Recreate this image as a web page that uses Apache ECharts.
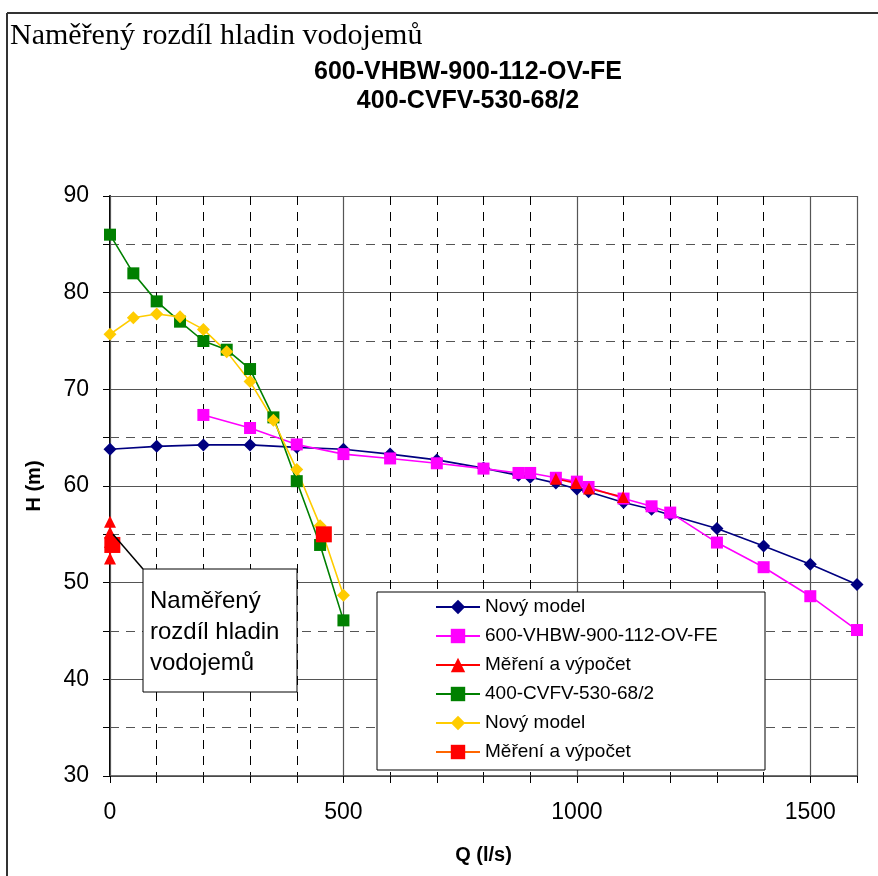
<!DOCTYPE html>
<html>
<head>
<meta charset="utf-8">
<script src="https://cdn.jsdelivr.net/npm/echarts@6/dist/echarts.min.js"></script>
<style>
  html, body { margin: 0; padding: 0; background: #fff; }
  #chart { width: 878px; height: 876px; }
</style>
</head>
<body>
<div id="chart"></div>
<script>
// hodnoty
const titleText = 'Naměřený rozdíl hladin vodojemů'
const subTitles = ['600-VHBW-900-112-OV-FE', '400-CVFV-530-68/2']
const seriesNames = ['Nový model', '600-VHBW-900-112-OV-FE', 'Měření a výpočet',
  '400-CVFV-530-68/2', 'Nový model\u200b', 'Měření a výpočet\u200b']
const noteLines = ['Naměřený', 'rozdíl hladin', 'vodojemů']

const qModel1 = [0, 100, 200, 300, 400, 500, 600, 700, 800, 875, 900, 955, 1000, 1025, 1100, 1160, 1200, 1300, 1400, 1500, 1600]
const hModel1 = [63.8, 64.1, 64.25, 64.25, 64.0, 63.8, 63.3, 62.7, 61.85, 61.1, 60.9, 60.3, 59.7, 59.4, 58.3, 57.6, 57.0, 55.6, 53.8, 51.9, 49.8]

const qVhbw = [200, 300, 400, 500, 600, 700, 800, 875, 900, 955, 1000, 1025, 1100, 1160, 1200, 1300, 1400, 1500, 1600]
const hVhbw = [67.35, 66.0, 64.3, 63.3, 62.85, 62.35, 61.8, 61.35, 61.35, 60.85, 60.45, 59.9, 58.7, 57.9, 57.25, 54.15, 51.6, 48.6, 45.1]

// '-' = přerušení čáry
const qMer1 = [0, 0, 0, 0, 500, 955, 998, 1026, 1099]
const hMer1 = [56.3, 55.2, 54.2, 52.5, '-', 60.75, 60.3, 59.75, 58.85]

const qCvfv = [0, 50, 100, 150, 200, 250, 300, 350, 400, 450, 500]
const hCvfv = [86.0, 82.0, 79.1, 77.0, 75.0, 74.1, 72.1, 67.1, 60.5, 53.9, 46.1]

const qModel2 = [0, 50, 100, 150, 200, 250, 300, 350, 400, 450, 500]
const hModel2 = [75.7, 77.4, 77.8, 77.5, 76.2, 73.9, 70.8, 66.8, 61.7, 55.9, 48.7]

const qMer2 = [5, 230, 458]
const hMer2 = [53.9, '-', 55.0]

const xTicks = [0, 500, 1000, 1500]

const font = "'Liberation Sans', Arial, sans-serif"

function pairs(xs, ys) {
  return xs.map((x, i) => [x, ys[i]])
}

function lineSeries(name, xs, ys, color, lineColor, symbol, size) {
  return {
    name: name,
    type: 'line',
    data: pairs(xs, ys),
    symbol: symbol,
    symbolSize: size,
    connectNulls: false,
    itemStyle: { color: color, opacity: 1 },
    lineStyle: { color: lineColor, width: 1.6 },
    emphasis: { disabled: true },
    animation: false
  }
}

let myChart = echarts.init(document.getElementById('chart'))

const series = [
  lineSeries(seriesNames[0], qModel1, hModel1, '#000080', '#000080', 'diamond', 13),
  lineSeries(seriesNames[1], qVhbw, hVhbw, '#FF00FF', '#FF00FF', 'rect', 12),
  lineSeries(seriesNames[2], qMer1, hMer1, '#FF0000', '#FF0000', 'triangle', 12),
  lineSeries(seriesNames[3], qCvfv, hCvfv, '#008000', '#008000', 'rect', 12),
  lineSeries(seriesNames[4], qModel2, hModel2, '#FFCC00', '#FFCC00', 'diamond', 13),
  lineSeries(seriesNames[5], qMer2, hMer2, '#FF0000', '#FF6600', 'rect', 16)
]

myChart.setOption({
  animation: false,
  textStyle: { fontFamily: font },
  grid: { left: 110, right: 21, top: 196, bottom: 100, containLabel: false },
  legend: {
    orient: 'vertical',
    left: 435,
    top: 597,
    z: 6,
    padding: 0,
    itemWidth: 44,
    itemHeight: 18,
    itemGap: 9,
    selectedMode: false,
    data: seriesNames,
    textStyle: { fontFamily: font, fontSize: 19, color: '#000', lineHeight: 20 }
  },
  xAxis: [
    {
      type: 'value',
      min: 0,
      max: 1600,
      interval: 100,
      name: 'Q (l/s)',
      nameLocation: 'middle',
      nameGap: 69,
      nameTextStyle: { fontFamily: font, fontSize: 20, fontWeight: 'bold', color: '#000' },
      axisLine: { show: true, onZero: false, lineStyle: { color: '#444', width: 1.5 } },
      axisTick: { show: true, length: 7, lineStyle: { color: '#000' } },
      axisLabel: {
        margin: 25,
        fontSize: 23,
        color: '#000',
        fontFamily: font,
        formatter: v => xTicks.indexOf(v) >= 0 ? String(v) : ''
      },
      splitLine: { show: true, lineStyle: { color: '#000', type: [9, 7], width: 1 } }
    },
    {
      type: 'value',
      min: 0,
      max: 1600,
      interval: 500,
      position: 'bottom',
      z: 1,
      axisLine: { show: false },
      axisTick: { show: false },
      axisLabel: { show: false },
      splitLine: { show: true, lineStyle: { color: '#555', width: 1.2 } }
    }
  ],
  yAxis: {
    type: 'value',
    min: 30,
    max: 90,
    interval: 10,
    name: 'H (m)',
    nameLocation: 'middle',
    nameGap: 66,
    nameTextStyle: { fontFamily: font, fontSize: 20, fontWeight: 'bold', color: '#000' },
    axisLine: { show: true, onZero: false, lineStyle: { color: '#000', width: 2 } },
    axisTick: { show: true, length: 7, lineStyle: { color: '#000' } },
    minorTick: { show: true, splitNumber: 2, length: 7, lineStyle: { color: '#000' } },
    axisLabel: { margin: 21, fontSize: 23, color: '#000', fontFamily: font },
    splitLine: { show: true, lineStyle: { color: '#555', width: 1.2 } },
    minorSplitLine: { show: true, lineStyle: { color: '#555', type: [9, 7], width: 1.2 } }
  },
  series: series
})

// poloha odkazu anotace (měření u Q = 0)
const anchor = myChart.convertToPixel({ gridIndex: 0 }, [0, 54.6])

myChart.setOption({
  graphic: [
    // rámeček obrázku
    { type: 'line', z: 10, shape: { x1: 7, y1: 13, x2: 878, y2: 13 }, style: { stroke: '#333', lineWidth: 2 } },
    { type: 'line', z: 10, shape: { x1: 7, y1: 13, x2: 7, y2: 876 }, style: { stroke: '#333', lineWidth: 2 } },
    {
      type: 'text', x: 10, y: 36, z: 10,
      style: {
        text: titleText, font: "30px 'Liberation Serif', 'Times New Roman', serif",
        fill: '#000', verticalAlign: 'middle'
      }
    },
    {
      type: 'text', x: 468, y: 72, z: 10,
      style: { text: subTitles[0], font: 'bold 25px ' + font, fill: '#000', align: 'center', verticalAlign: 'middle' }
    },
    {
      type: 'text', x: 468, y: 101, z: 10,
      style: { text: subTitles[1], font: 'bold 25px ' + font, fill: '#000', align: 'center', verticalAlign: 'middle' }
    },
    // rámeček legendy
    {
      type: 'rect', z: 4,
      shape: { x: 377, y: 592, width: 388, height: 178 },
      style: { fill: '#fff', stroke: '#000', lineWidth: 1 }
    },
    // anotace
    {
      type: 'line', z: 4,
      shape: { x1: anchor[0] + 3, y1: anchor[1] - 4, x2: 143, y2: 569 },
      style: { stroke: '#000', lineWidth: 1.5 }
    },
    {
      type: 'rect', z: 4,
      shape: { x: 143, y: 569, width: 154, height: 123 },
      style: { fill: '#fff', stroke: '#000', lineWidth: 1 }
    },
    {
      type: 'text', x: 150, y: 632, z: 5,
      style: {
        text: noteLines.join('\n'), font: '24px ' + font, fill: '#000',
        lineHeight: 31, verticalAlign: 'middle'
      }
    }
  ]
})
</script>
</body>
</html>
